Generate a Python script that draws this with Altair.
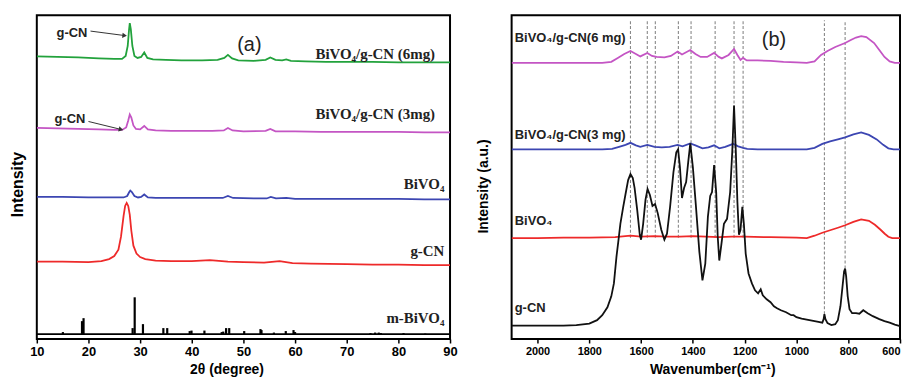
import altair as alt
import pandas as pd

# ================= Panel (a): XRD =================
tt_6mg = [10, 14, 18, 22, 25, 26.5, 27.2, 27.6, 27.85, 28.0, 28.2, 28.5, 28.9, 29.5, 30.2, 30.8, 31.4, 32.5, 35, 38,
          42, 45, 46.3, 47.0, 47.8, 49, 52, 54.3, 55.2, 56.2, 57.5, 58.3, 59.2, 62, 66, 70, 75, 80, 85, 90]
int_6mg = [284.5, 284, 283.5, 282.5, 282, 282, 285, 295, 311, 318, 312, 295, 285, 283, 284, 288.5, 283, 281.5, 281, 280.5,
           280.5, 281, 283, 286, 282.5, 280.5, 280, 281, 283.5, 281, 280.5, 281.5, 280, 279.5, 279, 279, 279, 278.5, 278.5, 278.5]

tt_3mg = [10, 14, 18, 22, 25, 26.5, 27.3, 27.7, 28.0, 28.3, 28.7, 29.2, 30.0, 30.8, 31.5, 33, 36, 40, 44, 46.2,
          47.0, 47.9, 50, 54.3, 55.2, 56.2, 60, 65, 70, 75, 80, 85, 90]
int_3mg = [212.5, 212, 211.5, 211, 210.5, 210.5, 213, 220, 226, 223, 215, 211.5, 211, 214.5, 211, 210, 209.5, 209.5, 209.5, 210,
           212.5, 210, 209, 209.5, 211.5, 209, 209, 208.5, 208.5, 208.5, 208.5, 208, 208]

tt_bv = [10, 15, 20, 25, 26.8, 27.5, 27.9, 28.1, 28.4, 28.9, 29.6, 30.2, 30.8, 31.5, 33, 37, 42, 46, 47.0, 48,
         52, 54.5, 55.3, 56.3, 58.3, 60, 65, 70, 75, 80, 85, 90]
int_bv = [143, 143, 142.5, 142.5, 142.5, 144, 148, 149.5, 148, 144, 142.5, 143, 145.5, 142.5, 142, 142, 142, 142, 144, 142,
          141.5, 141.5, 143, 141.5, 142, 141, 141, 141, 141, 141, 140.5, 140.5]

tt_gcn = [10, 15, 20, 22.5, 24, 25, 25.8, 26.3, 26.8, 27.1, 27.4, 27.7, 28.0, 28.3, 28.7, 29.3, 30.0, 31, 33, 36,
          40, 43.5, 47, 50, 54, 57, 59.5, 63, 70, 75, 80, 85, 90]
int_gcn = [78, 78, 77.5, 78.5, 80.5, 83.5, 90, 103, 124, 134, 137, 134, 125, 109, 94, 86, 82.5, 80.5, 79, 78.5,
           78.5, 79.5, 78, 77.5, 77, 78.5, 76.5, 76, 75.5, 75, 75, 74.5, 74.5]

# reference pattern m-BiVO4 (sticks)
stick_tt = [15.05, 18.75, 19.05, 28.55, 28.95, 30.55, 34.5, 35.25, 39.6, 39.95, 42.45, 45.8, 46.1, 46.65, 47.25,
            50.15, 53.3, 53.5, 55.9, 58.2, 59.7, 60.0, 74.6, 75.5, 76.2, 76.6, 81.0, 85.2]
stick_int = [7, 18, 21, 11, 42, 15, 11, 11, 8, 8.5, 8.5, 7, 7.5, 11, 11,
             8, 10, 9, 6.5, 8, 9, 7, 6, 6.5, 6.5, 6, 6, 5.5]
stick_base = 5

labels_a = ["BiVO₄/g-CN (6mg)", "BiVO₄/g-CN (3mg)", "BiVO₄", "g-CN", "m-BiVO₄"]
labels_a_x = [87.1, 87.1, 88.9, 88.9, 88.9]
labels_a_v = [286.5, 226, 156, 89, 21]

# ================= Panel (b): FTIR =================
wn_6mg = [2100, 2000, 1900, 1800, 1750, 1715, 1690, 1665, 1641, 1620, 1603, 1576, 1558, 1540, 1510, 1485, 1459, 1442, 1410, 1390,
          1370, 1345, 1318, 1300, 1288, 1262, 1241, 1228, 1216, 1206, 1192, 1150, 1100, 1050, 1000, 960, 930, 905, 880, 850,
          812, 790, 770, 750, 730, 700, 680, 660, 640, 620, 600]
ir_6mg = [278, 278, 278, 278, 278, 279, 283, 287, 290, 287, 284.5, 288, 285, 284, 283.5, 285, 289.5, 286.5, 291, 287,
          284, 284, 288, 284, 282.5, 286, 292, 286, 281, 283, 280.5, 280.5, 280, 279, 278.5, 278, 279.5, 286, 290, 294,
          298, 301, 303.5, 305, 304, 298, 291, 284, 279.5, 278, 278]

wn_3mg = [2100, 2000, 1900, 1800, 1750, 1712, 1685, 1660, 1641, 1620, 1603, 1576, 1548, 1520, 1490, 1459, 1440, 1410, 1390, 1363,
          1340, 1318, 1298, 1275, 1244, 1225, 1206, 1190, 1150, 1100, 1050, 1000, 960, 930, 900, 870, 840, 812, 780, 750,
          720, 690, 665, 645, 625, 600]
ir_3mg = [191, 191, 191, 191, 191, 191.5, 193.5, 195.5, 197.5, 195, 193.5, 195.5, 193.5, 193, 193.5, 195.5, 194, 197, 195, 192,
          193, 195, 192, 193.5, 196.5, 194, 192.5, 191.5, 191, 191, 191, 191, 191, 192.5, 196.5, 199, 201, 203, 206, 208,
          205.5, 201, 195.5, 192, 191, 191]

wn_bv = [2100, 2000, 1900, 1800, 1700, 1641, 1600, 1550, 1500, 1450, 1400, 1350, 1300, 1250, 1200, 1100, 1000, 960, 930, 900,
         870, 840, 812, 780, 750, 720, 697, 675, 659, 645, 630, 600]
ir_bv = [101.5, 101.5, 102, 102, 102.5, 104, 103, 103.5, 103, 103, 103.5, 103, 102.5, 103, 103, 102.5, 102, 101.5, 104, 107,
         109.5, 112, 114.5, 118, 120.5, 119, 115, 110, 106, 103, 101.5, 101.5]

wn_gcn = [2100, 2000, 1900, 1850, 1800, 1770, 1750, 1730, 1715, 1705, 1695, 1688, 1680, 1669, 1660, 1650, 1641, 1632, 1625, 1615,
          1605, 1600, 1592, 1583, 1575, 1566, 1556, 1546, 1536, 1522, 1510, 1500, 1488, 1475, 1464, 1457, 1450, 1442, 1434, 1426,
          1418, 1410, 1400, 1388, 1375, 1363, 1352, 1342, 1333, 1326, 1318, 1310, 1304, 1298, 1290, 1280, 1268, 1256, 1248, 1241,
          1234, 1228, 1222, 1216, 1209, 1203, 1196, 1185, 1172, 1160, 1148, 1138, 1130, 1115, 1100, 1087, 1075, 1060, 1040, 1020,
          1011, 1000, 980, 950, 920, 900, 895, 892, 888, 880, 865, 850, 840, 830, 822, 816, 812, 808, 802, 795,
          785, 770, 757, 742, 725, 705, 680, 660, 640, 620, 600]
ir_gcn = [13.5, 13.5, 13.5, 14, 15.5, 19, 24, 32, 43, 56, 83, 98, 116, 133, 146, 160, 166, 162, 152, 130,
          105, 100, 116, 140, 151, 145, 134, 136, 127, 110, 100, 106, 133, 168, 188, 191, 173, 142, 152, 158,
          178, 197, 173, 133, 88, 59, 76, 123, 144, 148, 175, 148, 103, 79, 95, 116, 121, 148, 188, 235,
          188, 138, 105, 110, 133, 116, 86, 66, 56, 49, 46, 50, 44, 40, 37, 33, 31, 29, 27, 24,
          24, 22, 20.5, 19, 17.5, 16.5, 20, 25, 20, 16, 14, 15, 19, 33, 53, 68, 71, 63, 43, 30,
          26, 26, 25.5, 29, 26, 23, 20, 18, 16.5, 14.5, 13]

dash_wn = [1641, 1576, 1545, 1456, 1407, 1314, 1241, 1206, 892, 812]
dash_low = [102, 102, 102, 102, 102, 102, 102, 102, 25, 71]
dash_high = 321

labels_b = ["BiVO₄/g-CN(6 mg)", "BiVO₄/g-CN(3 mg)", "BiVO₄", "g-CN"]
labels_b_v = [303, 205, 119, 31]
labels_b_x = 2088

# ================= build tables =================
def series(name, xs, ys):
    assert len(xs) == len(ys), name
    return pd.DataFrame({"x": xs, "v": ys, "series": name, "i": list(range(len(xs)))})

df_a = pd.concat([series("6mg", tt_6mg, int_6mg), series("3mg", tt_3mg, int_3mg),
                  series("BiVO4", tt_bv, int_bv), series("g-CN", tt_gcn, int_gcn)])
df_b = pd.concat([series("6mg", wn_6mg, ir_6mg), series("3mg", wn_3mg, ir_3mg),
                  series("BiVO4", wn_bv, ir_bv), series("g-CN", wn_gcn, ir_gcn)])

ser_dom = ["6mg", "3mg", "BiVO4", "g-CN"]
col_a = ["#22a23c", "#c455c4", "#3c46b2", "#ee2a2a"]
col_b = ["#c455c4", "#3c46b2", "#ee2a2a", "#111111"]

SANS = "Liberation Sans"
SERIF = "Liberation Serif"

def xaxis(values, expr, title, title_x, lab_size, title_size, flush, fmt, title_pad):
    kw = dict(values=values, labelExpr=expr, labelOverlap=False, labelFlush=flush,
              tickSize=4, tickWidth=1.5, tickColor="black", domain=False, grid=False,
              labelFont=SANS, labelFontSize=lab_size, labelFontWeight="bold", labelColor="black",
              labelPadding=3, title=title, titleFont=SANS, titleFontSize=title_size,
              titleFontWeight="bold", titleColor="black", titlePadding=title_pad, titleX=title_x)
    if fmt:
        kw["format"] = fmt
    return alt.Axis(**kw)

def yaxis(title, title_pad, title_size, title_y):
    return alt.Axis(labels=False, ticks=False, domain=False, grid=False, title=title,
                    titleFont=SANS, titleFontSize=title_size, titleFontWeight="bold", titleColor="black",
                    titlePadding=title_pad, titleY=title_y)

W_A, W_B, H = 416, 391, 326

# ---------- panel (a) ----------
xa_scale = alt.Scale(domain=[10, 90], nice=False, zero=False)
ya_scale = alt.Scale(domain=[0, 326], nice=False, zero=False)

lines_a = alt.Chart(df_a).mark_line(strokeWidth=1.8, clip=True).encode(
    x=alt.X("x:Q", scale=xa_scale,
            axis=xaxis(list(range(10, 91, 5)), "datum.value % 10 === 0 ? datum.label : ''",
                       "2θ (degree)", 191, 13, 14, False, None, 4)),
    y=alt.Y("v:Q", scale=ya_scale, axis=yaxis("Intensity", 11, 16, 170)),
    color=alt.Color("series:N", scale=alt.Scale(domain=ser_dom, range=col_a), legend=None),
    order="i:Q",
)

sticks = alt.Chart(pd.DataFrame({"x": stick_tt, "v": stick_int, "base": stick_base})).mark_rule(
    color="black", strokeWidth=2.2).encode(x="x:Q", y="base:Q", y2="v:Q")

stick_line = alt.Chart(pd.DataFrame({"x": [10], "x2": [90], "v": [stick_base]})).mark_rule(
    color="black", strokeWidth=1.8).encode(x="x:Q", x2="x2:Q", y="v:Q")

lab_a = alt.Chart(pd.DataFrame({"x": labels_a_x, "v": labels_a_v, "t": labels_a})).mark_text(
    align="right", baseline="middle", font=SERIF, fontSize=15, fontWeight="bold", color="#222").encode(
    x="x:Q", y="v:Q", text="t:N")

ann_txt = alt.Chart(pd.DataFrame({"x": [16.8, 16.4], "v": [308.5, 221.5], "t": ["g-CN", "g-CN"]})).mark_text(
    align="center", baseline="middle", font=SANS, fontSize=13, fontWeight="bold", color="#222").encode(
    x="x:Q", y="v:Q", text="t:N")

arrow_df = pd.DataFrame({"x": [20.4, 20.0], "v": [310, 219], "x2": [27.0, 26.3], "v2": [305.5, 211]})
arrow_lines = alt.Chart(arrow_df).mark_rule(color="#333", strokeWidth=1).encode(
    x="x:Q", y="v:Q", x2="x2:Q", y2="v2:Q")
head1 = alt.Chart(arrow_df.iloc[[0]]).mark_point(shape="triangle-right", filled=True, size=28,
                                                 angle=7, color="#333", opacity=1).encode(x="x2:Q", y="v2:Q")
head2 = alt.Chart(arrow_df.iloc[[1]]).mark_point(shape="triangle-right", filled=True, size=28,
                                                 angle=13, color="#333", opacity=1).encode(x="x2:Q", y="v2:Q")

tag_a = alt.Chart(pd.DataFrame({"x": [51.15], "v": [296], "t": ["(a)"]})).mark_text(
    align="center", baseline="middle", font=SANS, fontSize=20, color="#222").encode(x="x:Q", y="v:Q", text="t:N")

panel_a = alt.layer(lines_a, sticks, stick_line, lab_a, ann_txt, arrow_lines, head1, head2, tag_a).properties(
    width=W_A, height=H)

# ---------- panel (b) ----------
xb_scale = alt.Scale(domain=[600, 2100], reverse=True, nice=False, zero=False)
yb_scale = alt.Scale(domain=[0, 326], nice=False, zero=False)

dashes = alt.Chart(pd.DataFrame({"x": dash_wn, "v": dash_low, "top": dash_high})).mark_rule(
    color="#888", strokeWidth=1.1, strokeDash=[3, 2]).encode(
    x=alt.X("x:Q", scale=xb_scale,
            axis=xaxis(list(range(600, 2001, 100)), "datum.value % 200 === 0 ? datum.label : ''",
                       "Wavenumber(cm⁻¹)", 202, 11, 14, True, "d", 6)),
    y=alt.Y("v:Q", scale=yb_scale, axis=yaxis("Intensity (a.u.)", 21, 14, 172)),
    y2="top:Q")

lines_b = alt.Chart(df_b).mark_line(strokeWidth=1.8, clip=True).encode(
    x="x:Q", y="v:Q",
    color=alt.Color("series:N", scale=alt.Scale(domain=ser_dom, range=col_b), legend=None),
    order="i:Q",
)

lab_b = alt.Chart(pd.DataFrame({"x": labels_b_x, "v": labels_b_v, "t": labels_b})).mark_text(
    align="left", baseline="middle", font=SANS, fontSize=13, fontWeight="bold", color="#222").encode(
    x="x:Q", y="v:Q", text="t:N")

tag_b = alt.Chart(pd.DataFrame({"x": [1087], "v": [301], "t": ["(b)"]})).mark_text(
    align="center", baseline="middle", font=SANS, fontSize=20, color="#222").encode(x="x:Q", y="v:Q", text="t:N")

panel_b = alt.layer(dashes, lines_b, lab_b, tag_b).properties(width=W_B, height=H)

chart = alt.hconcat(panel_a, panel_b, spacing=17).resolve_scale(color="independent").properties(
    padding={"left": 1, "top": 5, "right": 0, "bottom": 0},
    background="white",
).configure_view(stroke="black", strokeWidth=2)

chart.save("out.html", embed_options={"renderer": "svg", "actions": False})
